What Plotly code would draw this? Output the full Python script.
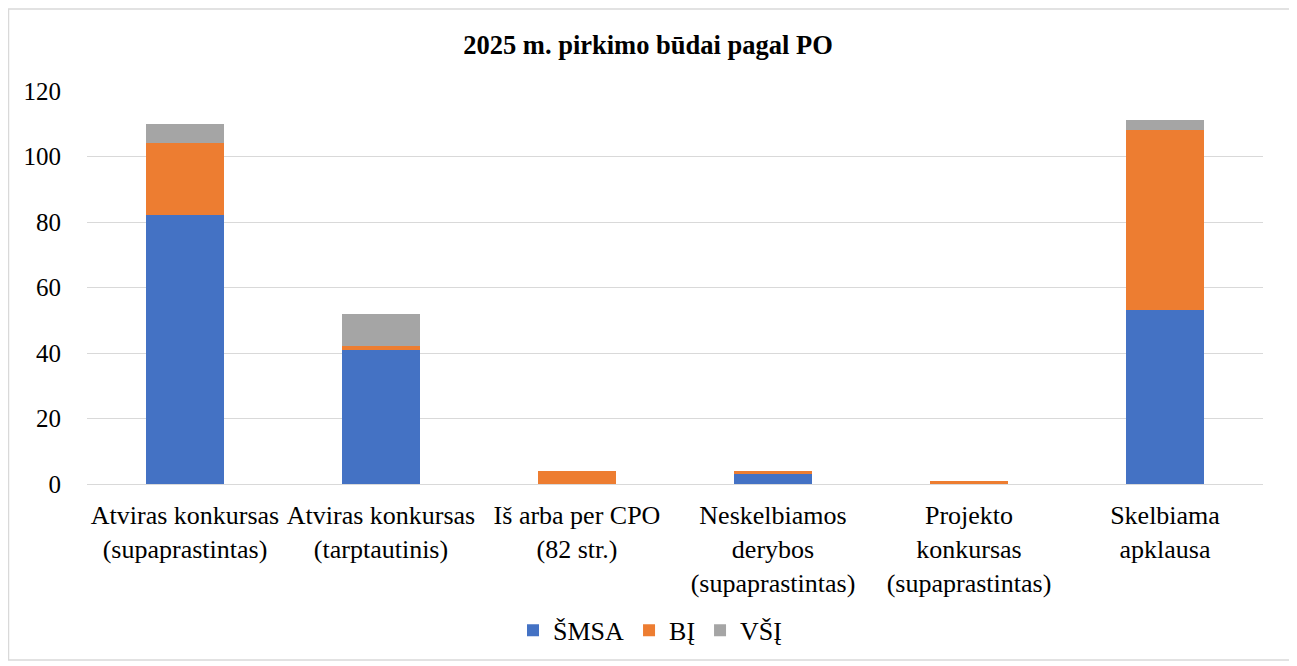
import plotly.graph_objects as go

categories = [
    "Atviras konkursas<br>(supaprastintas)",
    "Atviras konkursas<br>(tarptautinis)",
    "Iš arba per CPO<br>(82 str.)",
    "Neskelbiamos<br>derybos<br>(supaprastintas)",
    "Projekto<br>konkursas<br>(supaprastintas)",
    "Skelbiama<br>apklausa",
]
smsa = [82, 41, 0, 3, 0, 53]
bi = [22, 1, 4, 1, 1, 55]
vsi = [6, 10, 0, 0, 0, 3]
series_names = ["ŠMSA", "BĮ", "VŠĮ"]
colors = ["#4472C4", "#ED7D31", "#A5A5A5"]

fig = go.Figure()
for name, vals, col in zip(series_names, [smsa, bi, vsi], colors):
    fig.add_trace(go.Bar(x=categories, y=vals, name=name, marker_color=col,
                         marker_line_width=0))

FONT = "Liberation Serif"
W, H = 1289, 658
L, T = 79, 83
R = W - (1263 - 8)
B = H - (486 - 8)
PW = W - L - R
PH = H - T - B

def px_to_paper_x(px):
    return (px - 8 - L) / PW

def px_to_paper_y(py):
    return (T + PH - (py - 8)) / PH

fig.update_layout(
    barmode="stack",
    bargap=0.6,
    width=W, height=H,
    margin=dict(l=L, r=R, t=T, b=B),
    paper_bgcolor="white", plot_bgcolor="white",
    font=dict(family=FONT, size=24, color="black"),
    title=dict(text="<b>2025 m. pirkimo būdai pagal PO</b>", x=px_to_paper_x(648),
               xref="paper", xanchor="center",
               y=1 - (45 - 8) / H, yanchor="middle",
               font=dict(size=26.5, family=FONT, color="black")),
    legend=dict(orientation="h", x=px_to_paper_x(650), xanchor="center", y=px_to_paper_y(633),
                yanchor="middle", font=dict(size=26, family=FONT, color="black"),
                traceorder="normal", itemwidth=30, tracegroupgap=0),
    showlegend=True,
)
fig.update_yaxes(range=[0, 120], dtick=20, showgrid=True, gridcolor="#D9D9D9",
                 gridwidth=1, zeroline=False, showline=False, ticks="",
                 tickfont=dict(size=25, family=FONT, color="black"), ticklabelstandoff=25)
fig.update_xaxes(showgrid=False, showline=True, linecolor="#D9D9D9", ticks="",
                 tickfont=dict(size=26, family=FONT, color="black"), tickangle=0,
                 ticklabelstandoff=8)
fig.add_shape(type="rect", xref="paper", yref="paper",
              x0=px_to_paper_x(8.5), x1=px_to_paper_x(1290),
              y0=px_to_paper_y(663), y1=px_to_paper_y(8.5),
              line=dict(color="#D9D9D9", width=1.5), fillcolor="rgba(0,0,0,0)", layer="above")
fig.write_html("out.html")
